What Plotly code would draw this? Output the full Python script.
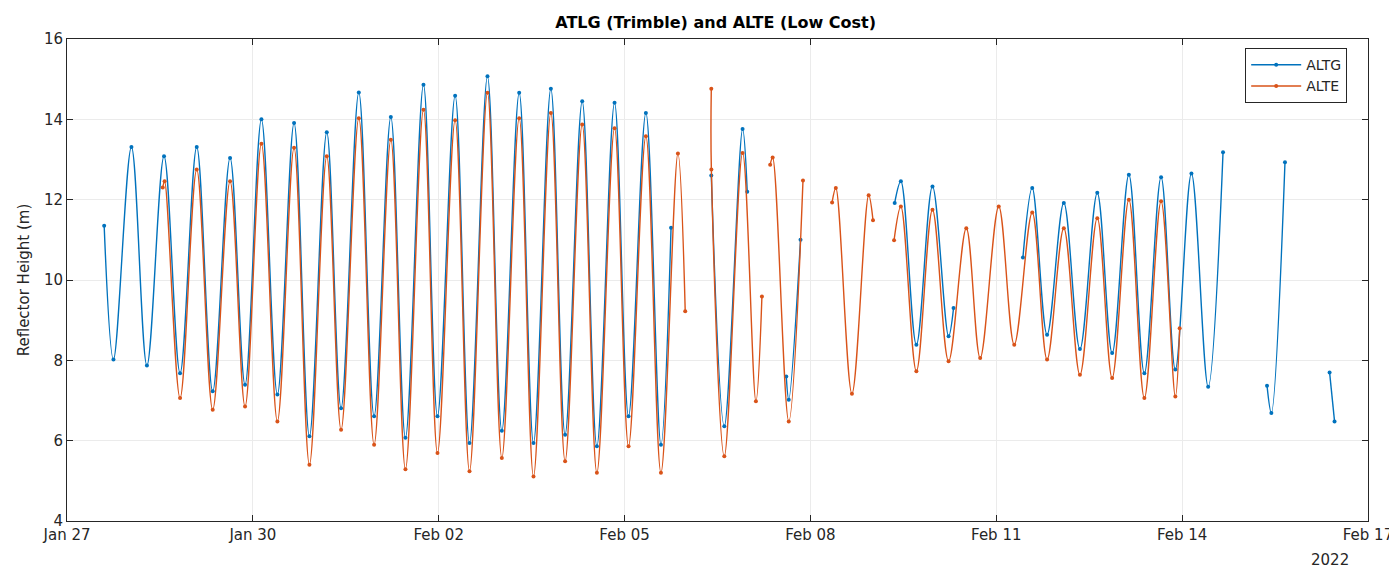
import pandas as pd
import plotly.graph_objects as go

BASE = "2022-01-27"

# ALTG (Trimble) – extrema / segment ends, days since Jan 27 00:00; None = data gap
altg_day = [0.60, 0.75, 1.04, 1.29, 1.566, 1.825, 2.094, 2.352, 2.632, 2.874, 3.138, 3.396,
            3.665, 3.913, 4.193, 4.424, 4.71, 4.957, 5.227, 5.463, 5.754, 5.98, 6.265, 6.497,
            6.787, 7.019, 7.299, 7.53, 7.81, 8.04, 8.316, 8.553, 8.838, 9.064, 9.344, 9.587, 9.75,
            None,
            10.40, 10.61, 10.905, 10.98,
            None,
            11.61, 11.65, 11.84,
            None,
            13.36, 13.46, 13.71, 13.97, 14.23, 14.31,
            None,
            15.43, 15.58, 15.82, 16.09, 16.35, 16.63, 16.87, 17.14, 17.39, 17.66, 17.89, 18.15, 18.42, 18.66,
            None,
            19.37, 19.44, 19.66,
            None,
            20.38, 20.46]
altg_val = [11.35, 8.02, 13.31, 7.87, 13.08, 7.68, 13.31, 7.23, 13.04, 7.39, 14.0, 7.15,
            13.91, 6.11, 13.68, 6.81, 14.67, 6.61, 14.06, 6.07, 14.86, 6.61, 14.59, 5.94,
            15.07, 6.25, 14.66, 5.94, 14.76, 6.15, 14.45, 5.86, 14.41, 6.61, 14.16, 5.90, 11.3,
            None,
            12.6, 6.36, 13.76, 12.2,
            None,
            7.6, 7.02, 11.0,
            None,
            11.92, 12.46, 8.39, 12.33, 8.60, 9.30,
            None,
            10.56, 12.29, 8.64, 11.92, 8.28, 12.17, 8.18, 12.62, 7.68, 12.56, 7.77, 12.65, 7.34, 13.18,
            None,
            7.37, 6.69, 12.93,
            None,
            7.70, 6.48]

# ALTE (Low Cost)
alte_day = [1.545, 1.575, 1.825, 2.094, 2.352, 2.632, 2.874, 3.138, 3.396, 3.665, 3.913, 4.193,
            4.424, 4.71, 4.957, 5.227, 5.463, 5.754, 5.98, 6.265, 6.497, 6.787, 7.019, 7.299,
            7.53, 7.81, 8.04, 8.316, 8.553, 8.838, 9.064, 9.344, 9.587, 9.861, 9.979,
            None,
            10.40, 10.401, 10.61, 10.905, 11.12, 11.217,
            None,
            11.35, 11.39, 11.65, 11.88,
            None,
            12.35, 12.41, 12.67, 12.94, 13.01,
            None,
            13.35, 13.46, 13.71, 13.97, 14.23, 14.516, 14.74, 15.04, 15.29, 15.58, 15.82, 16.09,
            16.35, 16.63, 16.87, 17.14, 17.39, 17.66, 17.89, 17.96]
alte_val = [12.3, 12.46, 7.06, 12.75, 6.77, 12.46, 6.85, 13.39, 6.48, 13.29, 5.40, 13.08,
            6.27, 14.03, 5.90, 13.49, 5.29, 14.24, 5.69, 13.98, 5.24, 14.66, 5.57, 14.03,
            5.11, 14.16, 5.49, 13.87, 5.20, 13.78, 5.86, 13.58, 5.20, 13.15, 9.22,
            None,
            14.76, 12.75, 5.61, 13.16, 6.98, 9.59,
            None,
            12.87, 13.05, 6.48, 12.48,
            None,
            11.93, 12.29, 7.17, 12.11, 11.49,
            None,
            10.99, 11.83, 7.73, 11.75, 7.98, 11.29, 8.06, 11.83, 8.39, 11.68, 8.02, 11.29,
            7.64, 11.54, 7.56, 12.0, 7.06, 11.96, 7.10, 8.80]

x_ticks = ["2022-01-27", "2022-01-30", "2022-02-02", "2022-02-05", "2022-02-08",
           "2022-02-11", "2022-02-14", "2022-02-17"]
x_tick_labels = ["Jan 27", "Jan 30", "Feb 02", "Feb 05", "Feb 08", "Feb 11", "Feb 14", "Feb 17"]
y_ticks = [4, 6, 8, 10, 12, 14, 16]


def to_time(days):
    base = pd.Timestamp(BASE)
    return [None if d is None else base + pd.Timedelta(days=d) for d in days]


FONT = "DejaVu Sans"
DARK = "#262626"

fig = go.Figure()
fig.add_trace(go.Scatter(
    x=to_time(altg_day), y=altg_val, name="ALTG", mode="lines+markers",
    line=dict(color="#0072BD", width=1.4, shape="spline", smoothing=1.0),
    marker=dict(size=4, color="#0072BD"), connectgaps=False))
fig.add_trace(go.Scatter(
    x=to_time(alte_day), y=alte_val, name="ALTE", mode="lines+markers",
    line=dict(color="#D95319", width=1.4, shape="spline", smoothing=1.0),
    marker=dict(size=4, color="#D95319"), connectgaps=False))

# the page body has an 8px margin, so the figure is drawn 8px in from the window's top-left
fig.update_layout(
    width=1389, height=560,
    margin=dict(l=59, r=29, t=31, b=47),
    paper_bgcolor="white", plot_bgcolor="white",
    font=dict(family=FONT, size=15, color=DARK),
    title=dict(text="<b>ATLG (Trimble) and ALTE (Low Cost)</b>", x=0.5095, xanchor="center",
               y=0.975, yanchor="middle", font=dict(family=FONT, size=16, color="black")),
    showlegend=True,
    legend=dict(x=0.984, xanchor="right", y=0.981, yanchor="top",
                bgcolor="white", bordercolor=DARK, borderwidth=1,
                font=dict(family=FONT, size=14, color=DARK),
                itemwidth=50, tracegroupgap=0),
    xaxis=dict(
        type="date", range=["2022-01-27", "2022-02-17"], automargin=False,
        tickvals=x_ticks, ticktext=x_tick_labels, ticklabeloverflow="allow",
        ticks="inside", ticklen=6, tickcolor=DARK, tickwidth=1,
        showline=True, linecolor=DARK, linewidth=1, mirror="ticks",
        showgrid=True, gridcolor="#ebebeb", gridwidth=1, zeroline=False,
        tickfont=dict(family=FONT, size=15, color=DARK)),
    yaxis=dict(
        range=[4, 16], tickvals=y_ticks, automargin=False,
        ticks="inside", ticklen=6, tickcolor=DARK, tickwidth=1,
        showline=True, linecolor=DARK, linewidth=1, mirror="ticks",
        showgrid=True, gridcolor="#ebebeb", gridwidth=1, zeroline=False,
        tickfont=dict(family=FONT, size=15, color=DARK),
        title=dict(text="Reflector Height (m)", standoff=10,
                   font=dict(family=FONT, size=15, color=DARK))),
)

fig.add_annotation(text="2022", xref="paper", yref="paper", x=0.971, y=-0.058,
                   xanchor="center", yanchor="top", showarrow=False,
                   font=dict(family=FONT, size=15, color=DARK))

fig.write_html("out.html", config={"displayModeBar": False})
